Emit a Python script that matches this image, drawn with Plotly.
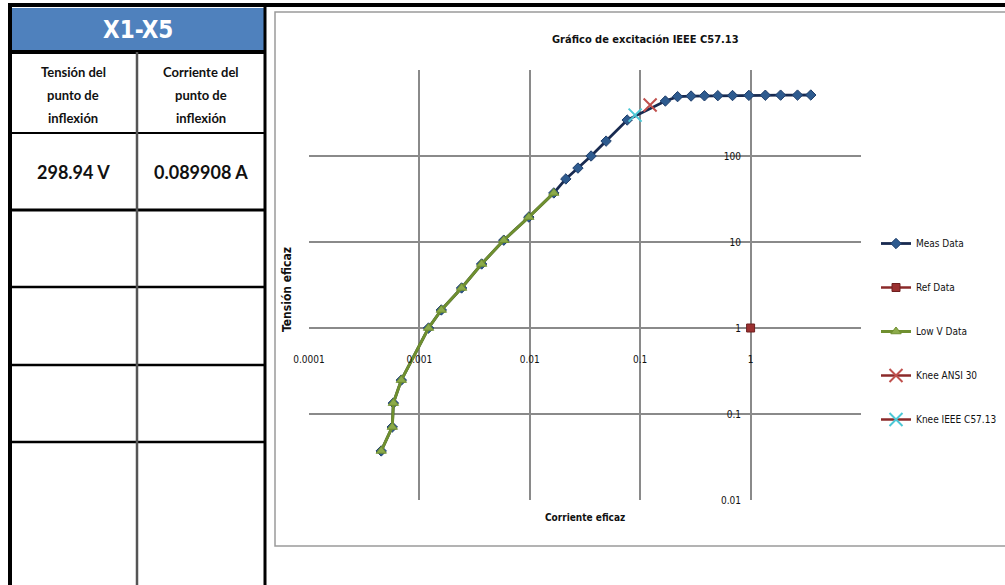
import plotly.graph_objects as go

# ---------------- data ----------------
meas_current = [0.000451, 0.000568, 0.000581, 0.000686, 0.00121, 0.00158, 0.00241, 0.00366,
                0.00581, 0.0098, 0.0165, 0.0212, 0.0273, 0.0359, 0.0491, 0.0762, 0.169,
                0.218, 0.289, 0.382, 0.505, 0.686, 0.965, 1.36, 1.87, 2.66, 3.51]
meas_voltage = [0.0372, 0.0706, 0.134, 0.248, 1.0, 1.62, 2.92, 5.55,
                10.5, 19.5, 37.2, 54.1, 72.4, 100, 149, 262, 436,
                490, 498, 501, 503, 505, 507, 509, 510, 511, 512]
lowv_current = [0.000451, 0.000568, 0.000581, 0.000686, 0.00121, 0.00158, 0.00241, 0.00366,
                0.00581, 0.0098, 0.0165]
lowv_voltage = [0.0372, 0.0706, 0.134, 0.248, 1.0, 1.62, 2.92, 5.55, 10.5, 19.5, 37.2]
ref_current = [1.0]
ref_voltage = [1.0]
knee_ansi_current = [0.123]
knee_ansi_voltage = [392]
knee_ieee_current = [0.089908]
knee_ieee_voltage = [298.94]

x_tickvals = [0.0001, 0.001, 0.01, 0.1, 1]
x_ticktext = ["0.0001", "0.001", "0.01", "0.1", "1"]
y_tickvals = [0.01, 0.1, 1, 10, 100]
y_ticktext = ["0.01", "0.1", "1", "10", "100"]

table_title = "X1-X5"
col_headers = [["Tensión del", "punto de", "inflexión"],
               ["Corriente del", "punto de", "inflexión"]]
table_values = ["298.94 V", "0.089908 A"]

chart_title = "Gráfico de excitación IEEE C57.13"
x_title = "Corriente eficaz"
y_title = "Tensión eficaz"

# ---------------- layout helpers ----------------
W, H = 1005, 585
def px(x):
    return x / W
def py(y):
    return 1 - y / H

CH_FONT = "Liberation Sans Narrow, DejaVu Sans Condensed, Arial Narrow, sans-serif"
TB_FONT = "Lato, Roboto, sans-serif"

fig = go.Figure()

fig.add_trace(go.Scatter(
    x=meas_current, y=meas_voltage, name="Meas Data", mode="lines+markers",
    line=dict(color="#182a50", width=2.8),
    marker=dict(symbol="diamond", size=8, color="#2e5b8f", line=dict(color="#1f3e6b", width=1)),
    legendgroup="a"))
fig.add_trace(go.Scatter(
    x=ref_current, y=ref_voltage, name="Ref Data", mode="lines+markers",
    line=dict(color="#8b2a2a", width=2.5),
    marker=dict(symbol="square", size=8, color="#9b3030", line=dict(color="#6e1f1f", width=1)),
    legendgroup="b"))
fig.add_trace(go.Scatter(
    x=lowv_current, y=lowv_voltage, name="Low V Data", mode="lines+markers",
    line=dict(color="#6f8f2f", width=3),
    marker=dict(symbol="triangle-up", size=9, color="#8cab4a", line=dict(color="#6f8f2f", width=1)),
    legendgroup="c"))
fig.add_trace(go.Scatter(
    x=knee_ansi_current, y=knee_ansi_voltage, name="Knee ANSI 30", mode="lines+markers",
    line=dict(color="#8b2a2a", width=2.5),
    marker=dict(symbol="x-thin", size=13, color="#c0504d", line=dict(color="#c0504d", width=2)),
    legendgroup="d"))
fig.add_trace(go.Scatter(
    x=knee_ieee_current, y=knee_ieee_voltage, name="Knee IEEE C57.13", mode="lines+markers",
    line=dict(color="#8b2a2a", width=2.5),
    marker=dict(symbol="x-thin", size=13, color="#4cc8d6", line=dict(color="#4cc8d6", width=2)),
    legendgroup="e"))

# plot area: x 309..861 px, y 70..500 px
x_dom = [px(309), px(861)]
y_dom = [py(500), py(70)]

fig.update_layout(
    width=W, height=H,
    margin=dict(l=0, r=0, t=0, b=0, autoexpand=False),
    paper_bgcolor="white", plot_bgcolor="white",
    showlegend=True,
    legend=dict(x=px(876), y=py(229), xanchor="left", yanchor="top",
                font=dict(family=CH_FONT, size=10, color="#111"),
                tracegroupgap=25, itemwidth=30, bgcolor="rgba(0,0,0,0)"),
    xaxis=dict(type="log", range=[-4, 1], domain=x_dom, anchor="free",
               position=py(328), tickvals=x_tickvals, ticktext=x_ticktext,
               showgrid=True, gridcolor="#8a8a8a", gridwidth=1.5, zeroline=False,
               showline=False, ticks="", ticklabelstandoff=24,
               tickfont=dict(family=CH_FONT, size=10, color="#111")),
    yaxis=dict(type="log", range=[-2, 3], domain=y_dom, anchor="free",
               position=px(749), tickvals=y_tickvals, ticktext=y_ticktext,
               showgrid=True, gridcolor="#8a8a8a", gridwidth=1.5, zeroline=False,
               showline=False, ticks="", ticklabelstandoff=8,
               tickfont=dict(family=CH_FONT, size=10, color="#111")),
)

shapes = []
# chart frame
shapes.append(dict(type="rect", xref="paper", yref="paper", x0=px(275), x1=px(1040),
                   y0=py(546), y1=py(12), line=dict(color="#9a9a9a", width=1.5)))
# top thick black line
shapes.append(dict(type="line", xref="paper", yref="paper", x0=px(8), x1=px(1010),
                   y0=py(5), y1=py(5), line=dict(color="black", width=4)))
# table header fill
shapes.append(dict(type="rect", xref="paper", yref="paper", x0=px(12), x1=px(264),
                   y0=py(51), y1=py(8), fillcolor="#4f81bd", line=dict(width=0), layer="below"))
# left / right borders
shapes.append(dict(type="line", xref="paper", yref="paper", x0=px(10), x1=px(10),
                   y0=py(5), y1=py(590), line=dict(color="black", width=4)))
shapes.append(dict(type="line", xref="paper", yref="paper", x0=px(265), x1=px(265),
                   y0=py(5), y1=py(590), line=dict(color="black", width=3)))
# horizontal rules
for yy, wd in [(52, 4), (133, 2), (210, 3), (287, 2.5), (365, 2.5), (442, 2.5)]:
    shapes.append(dict(type="line", xref="paper", yref="paper", x0=px(10), x1=px(265),
                       y0=py(yy), y1=py(yy), line=dict(color="black", width=wd)))
# column divider
shapes.append(dict(type="line", xref="paper", yref="paper", x0=px(137), x1=px(137),
                   y0=py(52), y1=py(590), line=dict(color="#555555", width=2.5)))
fig.update_layout(shapes=shapes)

def txt(text, x, y, size, family, color="#111", angle=0):
    return dict(text=text, x=px(x), y=py(y), xref="paper", yref="paper",
                xanchor="center", yanchor="middle", showarrow=False, textangle=angle,
                font=dict(family=family, size=size, color=color))

ann = []
ann.append(txt("<b>" + chart_title + "</b>", 645, 40, 11, CH_FONT))
ann.append(txt("<b>" + x_title + "</b>", 585, 517, 10, CH_FONT))
ann.append(txt("<b>" + y_title + "</b>", 287, 290, 12, CH_FONT, angle=-90))
ann.append(txt("<b>" + table_title + "</b>", 138, 30, 24, CH_FONT, color="white"))
col_cx = [73, 201]
for ci, lines in enumerate(col_headers):
    for li, t in enumerate(lines):
        ann.append(txt("<b>" + t + "</b>", col_cx[ci], 72 + 23 * li, 13, TB_FONT))
for ci, t in enumerate(table_values):
    ann.append(txt("<b>" + t + "</b>", col_cx[ci], 172, 18, TB_FONT))
fig.update_layout(annotations=ann)

fig.write_html("out.html", config={"displayModeBar": False},
               post_script="document.body.style.margin='0';")
